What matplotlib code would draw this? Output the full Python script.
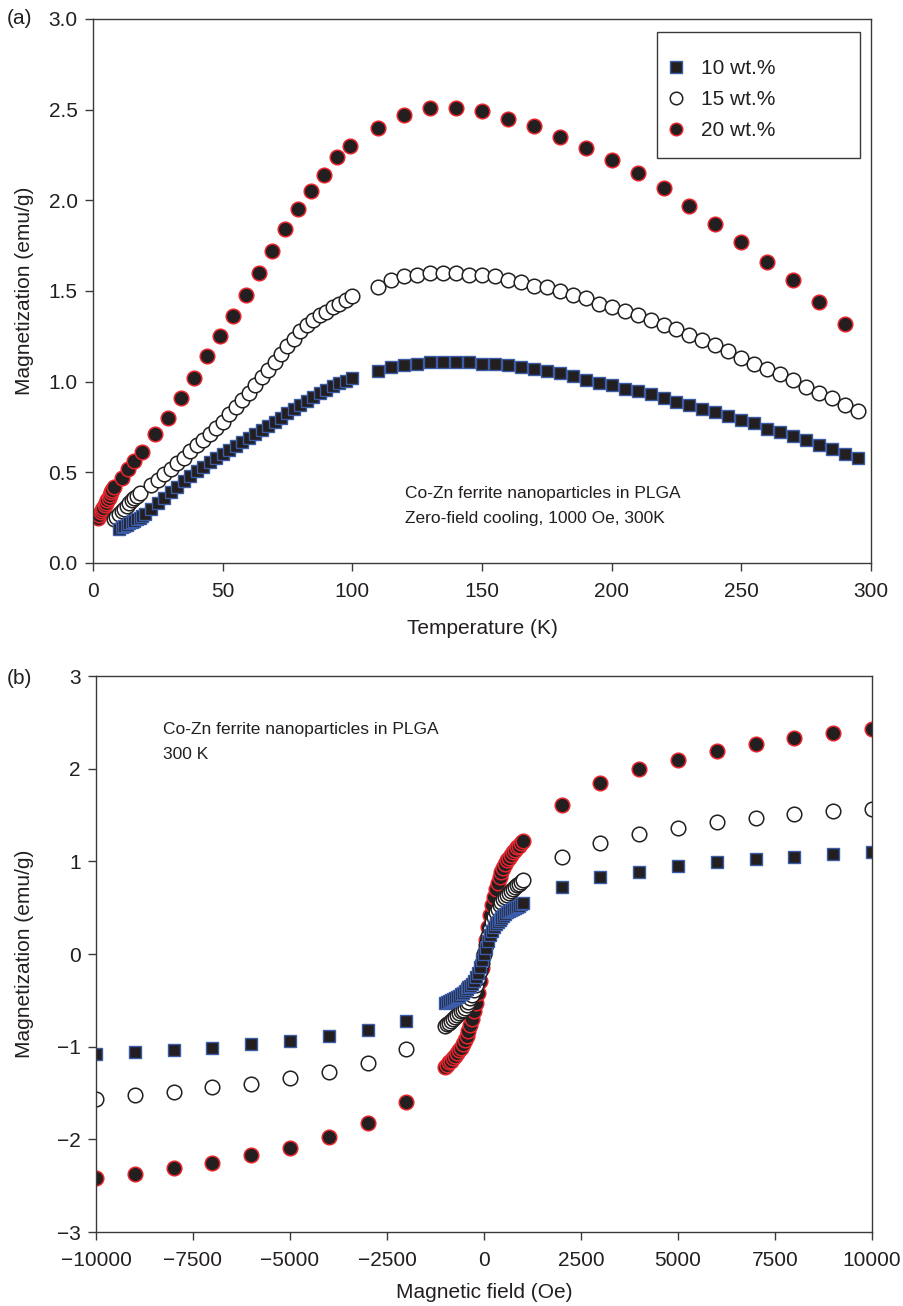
import numpy as np
import matplotlib
matplotlib.use('Agg')
import matplotlib.pyplot as plt
from matplotlib.lines import Line2D
from matplotlib.patches import Rectangle

plt.rcParams['font.family'] = ['Liberation Sans', 'DejaVu Sans']
plt.rcParams['font.size'] = 15
plt.rcParams['text.color'] = '#231f20'
plt.rcParams['axes.labelcolor'] = '#231f20'
plt.rcParams['xtick.color'] = '#231f20'
plt.rcParams['ytick.color'] = '#231f20'

# --- (a) ZFC magnetization vs temperature ---
T_10 = [10, 11, 12, 13, 14, 15, 16, 17, 18, 19,
        20, 22.5, 25, 27.5, 30, 32.5, 35, 37.5, 40, 42.5, 45, 47.5, 50, 52.5, 55, 57.5,
        60, 62.5, 65, 67.5, 70, 72.5, 75, 77.5, 80, 82.5, 85, 87.5, 90, 92.5, 95, 97.5, 100,
        110, 115, 120, 125, 130, 135, 140, 145, 150, 155, 160, 165, 170, 175, 180, 185,
        190, 195, 200, 205, 210, 215, 220, 225, 230, 235, 240, 245, 250, 255, 260, 265,
        270, 275, 280, 285, 290, 295]
M_10 = [0.19, 0.20, 0.205, 0.21, 0.22, 0.225, 0.23, 0.24, 0.25, 0.26,
        0.27, 0.30, 0.33, 0.36, 0.39, 0.42, 0.45, 0.48, 0.51, 0.53, 0.555, 0.58, 0.60, 0.625, 0.645, 0.67,
        0.69, 0.71, 0.735, 0.755, 0.78, 0.80, 0.825, 0.85, 0.87, 0.895, 0.915, 0.935, 0.955, 0.975, 0.99, 1.005, 1.02,
        1.06, 1.08, 1.09, 1.10, 1.11, 1.11, 1.11, 1.11, 1.10, 1.10, 1.09, 1.08, 1.07, 1.06, 1.05, 1.03,
        1.01, 0.99, 0.98, 0.96, 0.95, 0.93, 0.91, 0.89, 0.87, 0.85, 0.83, 0.81, 0.79, 0.77, 0.74, 0.72,
        0.70, 0.68, 0.65, 0.63, 0.60, 0.58]

T_15 = [8, 9, 10, 11, 12, 13, 14, 15, 16, 17, 18,
        22.5, 25, 27.5, 30, 32.5, 35, 37.5, 40, 42.5, 45, 47.5, 50, 52.5, 55, 57.5,
        60, 62.5, 65, 67.5, 70, 72.5, 75, 77.5, 80, 82.5, 85, 87.5, 90, 92.5, 95, 97.5, 100,
        110, 115, 120, 125, 130, 135, 140, 145, 150, 155, 160, 165, 170, 175, 180, 185,
        190, 195, 200, 205, 210, 215, 220, 225, 230, 235, 240, 245, 250, 255, 260, 265,
        270, 275, 280, 285, 290, 295]
M_15 = [0.24, 0.255, 0.27, 0.285, 0.30, 0.315, 0.33, 0.345, 0.36, 0.37, 0.385,
        0.43, 0.46, 0.49, 0.52, 0.55, 0.58, 0.615, 0.65, 0.68, 0.71, 0.745, 0.78, 0.82, 0.86, 0.90,
        0.94, 0.98, 1.025, 1.065, 1.11, 1.15, 1.195, 1.235, 1.28, 1.31, 1.34, 1.365, 1.385, 1.41, 1.43, 1.45, 1.47,
        1.52, 1.56, 1.58, 1.59, 1.60, 1.60, 1.60, 1.59, 1.59, 1.58, 1.56, 1.55, 1.53, 1.52, 1.50, 1.48,
        1.46, 1.43, 1.41, 1.39, 1.37, 1.34, 1.31, 1.29, 1.26, 1.23, 1.20, 1.17, 1.13, 1.10, 1.07, 1.04,
        1.01, 0.97, 0.94, 0.91, 0.87, 0.84]

T_20 = [2, 2.5, 3, 3.5, 4, 4.5, 5, 5.5, 6, 6.5, 7, 7.5, 8,
        11, 13.5, 16, 19,
        24, 29, 34, 39, 44, 49, 54, 59, 64, 69, 74, 79, 84, 89, 94, 99,
        110, 120, 130, 140, 150, 160, 170, 180, 190, 200, 210, 220, 230, 240, 250, 260,
        270, 280, 290]
M_20 = [0.25, 0.265, 0.28, 0.29, 0.305, 0.32, 0.33, 0.345, 0.36, 0.375, 0.39, 0.405, 0.42,
        0.47, 0.52, 0.56, 0.61,
        0.71, 0.80, 0.91, 1.02, 1.14, 1.25, 1.36, 1.48, 1.60, 1.72, 1.84, 1.95, 2.05, 2.14, 2.24, 2.30,
        2.40, 2.47, 2.51, 2.51, 2.49, 2.45, 2.41, 2.35, 2.29, 2.22, 2.15, 2.07, 1.97, 1.87, 1.77, 1.66,
        1.56, 1.44, 1.32]

# --- (b) magnetization vs field at 300 K ---
H_outer_neg = [-10000, -9000, -8000, -7000, -6000, -5000, -4000, -3000, -2000]
H_inner = [-1000, -950, -900, -850, -800, -750, -700, -650, -600, -550, -500, -450, -400,
           -350, -300, -250, -200, -150, -100, -50, 0, 50, 100, 150, 200, 250, 300, 350,
           400, 450, 500, 550, 600, 650, 700, 750, 800, 850, 900, 950, 1000]
H_outer_pos = [2000, 3000, 4000, 5000, 6000, 7000, 8000, 9000, 10000]

B10_neg = [-1.08, -1.06, -1.04, -1.01, -0.97, -0.94, -0.89, -0.82, -0.72]
B10_in = [-0.53, -0.52, -0.51, -0.50, -0.49, -0.47, -0.46, -0.45, -0.43, -0.42, -0.40, -0.38, -0.36,
          -0.34, -0.32, -0.29, -0.25, -0.20, -0.14, -0.07, 0.0, 0.07, 0.14, 0.20, 0.25, 0.29, 0.32, 0.35,
          0.37, 0.39, 0.41, 0.43, 0.45, 0.46, 0.47, 0.49, 0.50, 0.51, 0.52, 0.54, 0.55]
B10_pos = [0.72, 0.83, 0.89, 0.95, 0.99, 1.02, 1.05, 1.08, 1.10]

B15_neg = [-1.56, -1.52, -1.49, -1.44, -1.40, -1.34, -1.27, -1.18, -1.03]
B15_in = [-0.78, -0.76, -0.74, -0.72, -0.70, -0.68, -0.66, -0.64, -0.62, -0.60, -0.58, -0.55, -0.52,
          -0.48, -0.44, -0.39, -0.33, -0.26, -0.18, -0.10, 0.0, 0.10, 0.19, 0.27, 0.34, 0.40, 0.45, 0.49,
          0.53, 0.56, 0.59, 0.61, 0.64, 0.66, 0.68, 0.70, 0.72, 0.74, 0.76, 0.78, 0.80]
B15_pos = [1.05, 1.20, 1.29, 1.36, 1.42, 1.47, 1.51, 1.54, 1.57]

B20_neg = [-2.42, -2.37, -2.31, -2.25, -2.17, -2.09, -1.98, -1.82, -1.60]
B20_in = [-1.22, -1.20, -1.17, -1.15, -1.12, -1.10, -1.07, -1.04, -1.01, -0.97, -0.93, -0.88, -0.83,
          -0.77, -0.70, -0.62, -0.53, -0.42, -0.29, -0.15, 0.0, 0.15, 0.29, 0.42, 0.53, 0.62, 0.70, 0.77,
          0.83, 0.88, 0.93, 0.97, 1.01, 1.04, 1.07, 1.10, 1.12, 1.15, 1.17, 1.20, 1.22]
B20_pos = [1.61, 1.84, 2.00, 2.09, 2.19, 2.27, 2.33, 2.38, 2.43]

labels = ['10 wt.%', '15 wt.%', '20 wt.%']

dark = '#231f20'
blue = '#3b5ca8'
red = '#e8242c'
sq_style = dict(marker='s', ms=9, mfc=dark, mec=blue, mew=1.0, ls='none')
op_style = dict(marker='o', ms=10.5, mfc='white', mec=dark, mew=1.1, ls='none')
rd_style = dict(marker='o', ms=10.5, mfc=dark, mec=red, mew=1.1, ls='none')

W, H = 904, 1306
fig = plt.figure(figsize=(W / 100, H / 100), dpi=100)
ax1 = fig.add_axes([93 / W, 1 - 563 / H, 778 / W, 544 / H])
ax2 = fig.add_axes([96 / W, 1 - 1232 / H, 776 / W, 556 / H])

ax1.plot(T_20, M_20, **rd_style)
ax1.plot(T_15, M_15, **op_style)
ax1.plot(T_10, M_10, **sq_style)

H_all = np.concatenate([H_outer_neg, H_inner, H_outer_pos])
ax2.plot(H_all, np.concatenate([B20_neg, B20_in, B20_pos]), **rd_style)
ax2.plot(H_all, np.concatenate([B15_neg, B15_in, B15_pos]), **op_style)
ax2.plot(H_all, np.concatenate([B10_neg, B10_in, B10_pos]), **sq_style)

ax1.set_xlim(0, 300)
ax1.set_ylim(0, 3.0)
ax1.set_xticks(np.arange(0, 301, 50))
ax1.set_yticks(np.arange(0, 3.01, 0.5))
ax1.set_yticklabels([f'{v:.1f}' for v in np.arange(0, 3.01, 0.5)])
ax1.set_xlabel('Temperature (K)', labelpad=13)
ax1.set_ylabel('Magnetization (emu/g)')
ax1.yaxis.set_label_coords(-0.0756, 0.5)

ax2.set_xlim(-10000, 10000)
ax2.set_ylim(-3, 3)
ax2.set_xticks(np.arange(-10000, 10001, 2500))
ax2.set_yticks(np.arange(-3, 4, 1))
ax2.set_xlabel('Magnetic field (Oe)', labelpad=9)
ax2.set_ylabel('Magnetization (emu/g)')
ax2.yaxis.set_label_coords(-0.0798, 0.5)

for ax in (ax1, ax2):
    for sp in ax.spines.values():
        sp.set_color('#3a3a3a')
        sp.set_linewidth(1.0)
    ax.tick_params(direction='out', length=5.5, width=1.0, color='#3a3a3a',
                   labelsize=15, top=False, right=False)
    ax.tick_params(axis='x', pad=8.5)
    ax.tick_params(axis='y', pad=5.5)

# legend: markers + labels, framed by a wide box like the original
handles = [Line2D([], [], **{**sq_style, 'ms': 8}),
           Line2D([], [], **{**op_style, 'ms': 9}),
           Line2D([], [], **{**rd_style, 'ms': 9})]
ax1.legend(handles, labels, loc='upper left', bbox_to_anchor=(0.736, 0.926),
           frameon=False, fontsize=15, borderpad=0, labelspacing=0.57,
           handlelength=1.0, handletextpad=0.7, borderaxespad=0)
ax1.add_patch(Rectangle((0.725, 0.744), 0.261, 0.2326, transform=ax1.transAxes,
                        fill=False, edgecolor='#3a3a3a', linewidth=1.0, zorder=5))

ax1.text(0.401, 0.141, 'Co-Zn ferrite nanoparticles in PLGA\nZero-field cooling, 1000 Oe, 300K',
         transform=ax1.transAxes, ha='left', va='top', fontsize=12.5, linespacing=1.8)
ax2.text(0.0863, 0.917, 'Co-Zn ferrite nanoparticles in PLGA\n300 K',
         transform=ax2.transAxes, ha='left', va='top', fontsize=12.5, linespacing=1.8)

fig.text(7 / W, 1 - 19 / H, '(a)', ha='left', va='center', fontsize=15)
fig.text(7 / W, 1 - 678 / H, '(b)', ha='left', va='center', fontsize=15)

fig.savefig('out.png', dpi=100)
